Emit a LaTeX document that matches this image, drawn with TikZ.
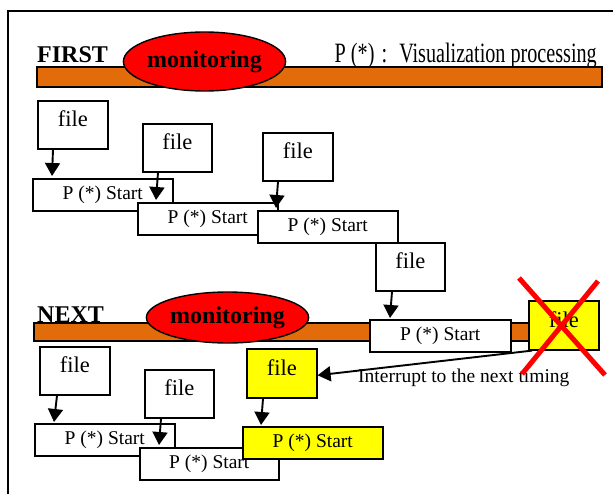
\documentclass[tikz,border=0pt]{standalone}
\usepackage{fontspec}
\setmainfont{Liberation Serif}
\usetikzlibrary{arrows.meta,shapes.geometric}
\definecolor{barorange}{RGB}{226,108,10}
\definecolor{ylw}{RGB}{255,255,0}
\begin{document}
\begin{tikzpicture}[x=1pt,y=-1pt,
  box/.style={draw,line width=1.6pt,inner sep=0pt,anchor=north west},
  filebox/.style={box,fill=white,minimum width=70pt,text height=26pt,text depth=22pt,font=\fontsize{22.5}{24}\selectfont},
  startbox/.style={box,fill=white,minimum width=140pt,text height=21pt,text depth=11pt,font=\fontsize{19.5}{21}\selectfont},
  monit/.style={ellipse,draw,fill=red,line width=1.4pt,inner sep=0pt,font=\bfseries\fontsize{24}{26}\selectfont},
  title/.style={anchor=base west,inner sep=0pt,font=\bfseries\fontsize{24}{26}\selectfont},
  bar/.style={fill=barorange,draw=black,line width=1.1pt},
  arr/.style={line width=1.9pt,-{Triangle[width=15pt,length=13pt]}},
  cross/.style={red,line width=5pt}
]
\useasboundingbox (0,0) rectangle (613,493);
\fill[white] (0,0) rectangle (613,493);
% frame
\draw[line width=1.8pt] (8,500) -- (8,11) -- (620,11);
% bars
\draw[bar] (37,67) rectangle (602,87);
\draw[bar] (34,323) rectangle (592,341);
% titles
\node[title] (first) at (37,62) {FIRST};
\node[title] (next) at (37,322) {NEXT};
\node[monit,minimum width=153pt,minimum height=59pt] (m1) at (204.5,61.5) {monitoring};
\node[monit,minimum width=151pt,minimum height=51pt] (m2) at (227.5,317.5) {monitoring};
\node[anchor=base east,inner sep=0pt] (legend) at (597,62)
  {\scalebox{0.72}[1]{\fontsize{28}{30}\selectfont P (*)\hspace{0.35em}:\hspace{0.6em}Visualization processing}};
% first section
\node[filebox] (f1) at (37,100) {file};
\node[filebox,minimum width=69pt] (f2) at (142,123) {file};
\node[filebox] (f3) at (262,132) {file};
\node[startbox] (s1) at (32,178) {P (*) Start};
\node[startbox] (s2) at (137,202) {P (*) Start};
\node[startbox] (s3) at (257,210) {P (*) Start};
\node[filebox,minimum width=69pt] (f4) at (375,242) {file};
\node[startbox,minimum width=141pt] (s4) at (369,319) {P (*) Start};
% next section
\node[filebox] (f5) at (39,346) {file};
\node[filebox,minimum width=69pt] (f6) at (144,369) {file};
\node[filebox,fill=ylw,minimum height=49pt] (f7) at (246,348) {file};
\node[startbox] (s5) at (34,423) {P (*) Start};
\node[startbox,minimum width=139pt] (s6) at (139,447) {P (*) Start};
\node[startbox,fill=ylw] (s7) at (242,426) {P (*) Start};
\node[filebox,fill=ylw,minimum height=49pt] (cf) at (528,300) {file};
% arrows
\draw[arr] ([xshift=16pt]f1.south west) -- ([xshift=20pt,yshift=2pt]s1.north west);
\draw[arr] ([xshift=16pt]f2.south west) -- ([xshift=19pt,yshift=2pt]s2.north west);
\draw[arr] ([xshift=16pt]f3.south west) -- ([xshift=19pt,yshift=2pt]s3.north west);
\draw[arr] ([xshift=17pt]f4.south west) -- ([xshift=21pt,yshift=1pt]s4.north west);
\draw[arr] ([xshift=18pt]f5.south west) -- ([xshift=20pt,yshift=1pt]s5.north west);
\draw[arr] ([xshift=17pt]f6.south west) -- ([xshift=20pt,yshift=2pt]s6.north west);
\draw[arr] ([xshift=17pt]f7.south west) -- ([xshift=19pt,yshift=1pt]s7.north west);
% interrupt
\draw[arr] ([xshift=4pt]cf.south west) -- ([yshift=-2pt]f7.east);
\node[anchor=base west,inner sep=0pt,font=\fontsize{19.5}{21}\selectfont] (intr) at (358,382) {Interrupt to the next timing};
% red cross
\draw[cross] (519,278) -- (605,375);
\draw[cross] (598,281) -- (522,374);
\end{tikzpicture}
\end{document}
